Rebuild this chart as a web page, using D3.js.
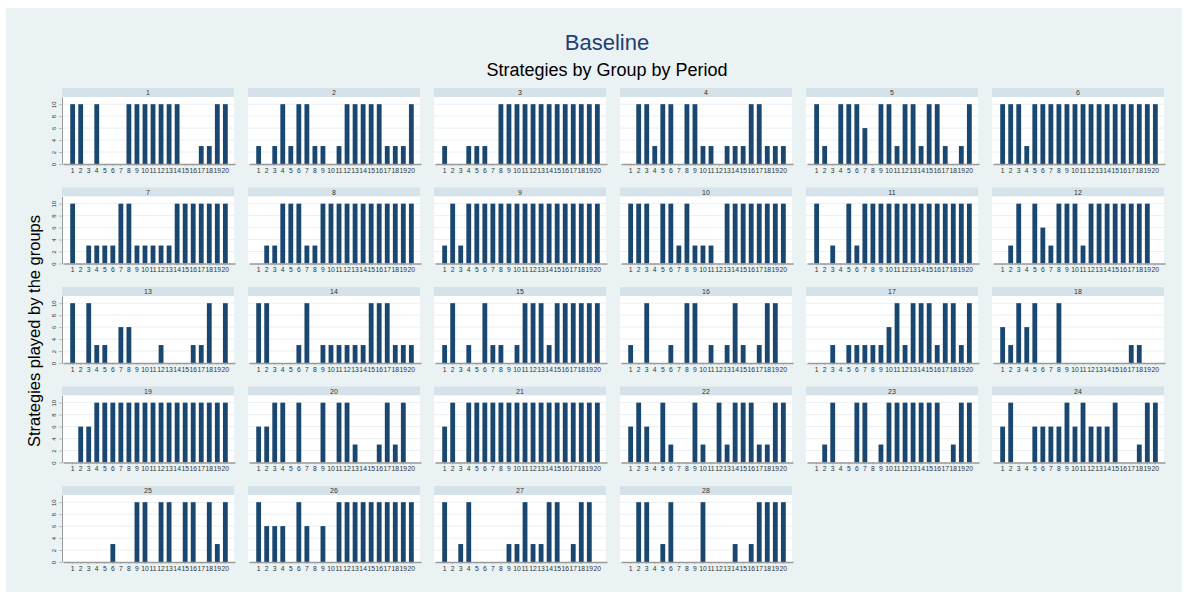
<!DOCTYPE html>
<html>
<head>
<meta charset="utf-8">
<script src="https://cdn.jsdelivr.net/npm/d3@7/dist/d3.min.js"></script>
<style>
  body { margin: 0; background: #fff; }
  svg { display: block; font-family: "Liberation Sans", Arial, sans-serif; }
</style>
</head>
<body>
<script>
// periods on the x axis of every panel
var periods = [1, 2, 3, 4, 5, 6, 7, 8, 9, 10, 11, 12, 13, 14, 15, 16, 17, 18, 19, 20];
var yTicks = [0, 2, 4, 6, 8, 10];
var groups = [1, 2, 3, 4, 5, 6, 7, 8, 9, 10, 11, 12, 13, 14, 15, 16, 17, 18, 19, 20,
              21, 22, 23, 24, 25, 26, 27, 28];

// strategy played by each group, period 1..20
var strategies = [
  [10,10,0,10,0,0,0,10,10,10,10,10,10,10,0,0,3,3,10,10],   // 1
  [3,0,3,10,3,10,10,3,3,0,3,10,10,10,10,10,3,3,3,10],      // 2
  [3,0,0,3,3,3,0,10,10,10,10,10,10,10,10,10,10,10,10,10],  // 3
  [0,10,10,3,10,10,0,10,10,3,3,0,3,3,3,10,10,3,3,3],       // 4
  [10,3,0,10,10,10,6,0,10,10,3,10,10,3,10,10,3,0,3,10],    // 5
  [10,10,10,3,10,10,10,10,10,10,10,10,10,10,10,10,10,10,10,10], // 6
  [10,0,3,3,3,3,10,10,3,3,3,3,3,10,10,10,10,10,10,10],     // 7
  [0,3,3,10,10,10,3,3,10,10,10,10,10,10,10,10,10,10,10,10], // 8
  [3,10,3,10,10,10,10,10,10,10,10,10,10,10,10,10,10,10,10,10], // 9
  [10,10,10,0,10,10,3,10,3,3,3,0,10,10,10,10,10,10,10,10], // 10
  [10,0,3,0,10,3,10,10,10,10,10,10,10,10,10,10,10,10,10,10], // 11
  [0,3,10,0,10,6,3,10,10,10,3,10,10,10,10,10,10,10,10,0],  // 12
  [10,0,10,3,3,0,6,6,0,0,0,3,0,0,0,3,3,10,0,10],           // 13
  [10,10,0,0,0,3,10,0,3,3,3,3,3,3,10,10,10,3,3,3],         // 14
  [3,10,0,3,0,10,3,3,0,3,10,10,10,3,10,10,10,10,10,10],    // 15
  [3,0,10,0,0,3,0,10,10,0,3,0,3,10,3,0,3,10,10,0],         // 16
  [0,0,3,0,3,3,3,3,3,6,10,3,10,10,10,3,10,10,3,10],        // 17
  [6,3,10,6,10,0,0,10,0,0,0,0,0,0,0,0,3,3,0,0],            // 18
  [0,6,6,10,10,10,10,10,10,10,10,10,10,10,10,10,10,10,10,10], // 19
  [6,6,10,10,0,10,0,0,10,0,10,10,3,0,0,3,10,3,10,0],       // 20
  [6,10,0,10,10,10,10,10,10,10,10,10,10,10,10,10,10,10,10,10], // 21
  [6,10,6,0,10,3,0,0,10,3,0,10,3,10,10,10,3,3,10,10],      // 22
  [0,3,10,0,0,10,10,0,3,10,10,10,10,10,10,10,0,3,10,10],   // 23
  [6,10,0,0,6,6,6,6,10,6,10,6,6,6,10,0,0,3,10,10],         // 24
  [0,0,0,0,0,3,0,0,10,10,0,10,10,0,10,10,0,10,3,10],       // 25
  [10,6,6,6,0,10,6,0,6,0,10,10,10,10,10,10,10,10,10,10],   // 26
  [10,0,3,10,0,0,0,0,3,3,10,3,3,10,10,0,3,10,10,0],        // 27
  [0,10,10,0,3,10,0,0,0,10,0,0,0,3,0,3,10,10,10,10]        // 28
];

var width = 1188, height = 599;
var navy = "#1a476f";

var svg = d3.select("body").append("svg")
    .attr("width", width)
    .attr("height", height);

svg.append("rect")
    .attr("x", 6).attr("y", 8)
    .attr("width", 1176).attr("height", 584)
    .attr("fill", "#eaf2f3");

svg.append("text")
    .attr("x", 607).attr("y", 50)
    .attr("text-anchor", "middle")
    .attr("font-size", 22)
    .attr("fill", "#1e3f73")
    .text("Baseline");

svg.append("text")
    .attr("x", 607).attr("y", 76)
    .attr("text-anchor", "middle")
    .attr("font-size", 18)
    .attr("fill", "#000")
    .text("Strategies by Group by Period");

svg.append("text")
    .attr("transform", "translate(40,331) rotate(-90)")
    .attr("text-anchor", "middle")
    .attr("font-size", 16.5)
    .attr("fill", "#000")
    .text("Strategies played by the groups");

var panelW = 172, headH = 9, plotH = 67;
var colX = function(i) { return 62 + (i % 6) * 186; };
var rowY = function(i) { return 88 + Math.floor(i / 6) * 99.5; };

groups.forEach(function(g, i) {
    var px = colX(i), py = rowY(i);
    var top = py + headH, bottom = top + plotH;
    var pan = svg.append("g");

    var x = d3.scaleBand().domain(periods)
        .range([px + 1, px + panelW + 1])
        .paddingInner(0.4).paddingOuter(0.9);
    var y = d3.scaleLinear().domain([0, 11.2]).range([bottom, top]);

    // header strip
    pan.append("rect")
        .attr("x", px).attr("y", py)
        .attr("width", panelW).attr("height", headH)
        .attr("fill", "#d6e2e9");
    pan.append("text")
        .attr("x", px + panelW / 2).attr("y", py + 7)
        .attr("text-anchor", "middle")
        .attr("font-size", 7)
        .attr("fill", "#333")
        .text(g);

    // plot region
    pan.append("rect")
        .attr("x", px).attr("y", top)
        .attr("width", panelW).attr("height", plotH)
        .attr("fill", "#fff");

    pan.selectAll("line.grid")
        .data(yTicks.slice(1))
        .enter().append("line")
        .attr("class", "grid")
        .attr("x1", px).attr("x2", px + panelW)
        .attr("y1", function(d) { return y(d); })
        .attr("y2", function(d) { return y(d); })
        .attr("stroke", "#eaeff1")
        .attr("stroke-width", 1);

    pan.selectAll("rect.bar")
        .data(strategies[i])
        .enter().append("rect")
        .attr("class", "bar")
        .attr("x", function(d, j) { return x(periods[j]); })
        .attr("width", x.bandwidth())
        .attr("y", function(d) { return y(d); })
        .attr("height", function(d) { return bottom - y(d); })
        .attr("fill", navy);

    var xa = pan.append("g")
        .attr("transform", "translate(0," + bottom + ")")
        .call(d3.axisBottom(x).tickSize(2).tickSizeOuter(0).tickPadding(2));
    xa.select(".domain").attr("stroke", "#9a9a9a").attr("stroke-width", 1.4);
    xa.selectAll(".tick line").attr("stroke", "#9a9a9a").attr("stroke-width", 0.6);
    xa.selectAll("text").attr("font-size", 6.8).attr("fill", "#333")
        .attr("font-family", "Liberation Sans, Arial, sans-serif");

    if (i % 6 === 0) {
        var ya = pan.append("g")
            .attr("transform", "translate(" + px + ",0)")
            .call(d3.axisLeft(y).tickValues(yTicks).tickSize(3).tickSizeOuter(0));
        ya.select(".domain").attr("stroke", "#9a9a9a").attr("stroke-width", 1);
        ya.selectAll(".tick line").attr("stroke", "#9a9a9a").attr("stroke-width", 0.6);
        ya.selectAll("text")
            .attr("font-size", 6).attr("fill", "#333")
            .attr("font-family", "Liberation Sans, Arial, sans-serif")
            .attr("x", 0).attr("dy", 0)
            .attr("text-anchor", "middle")
            .attr("transform", "translate(-6,0) rotate(-90)");
    }
});
</script>
</body>
</html>
